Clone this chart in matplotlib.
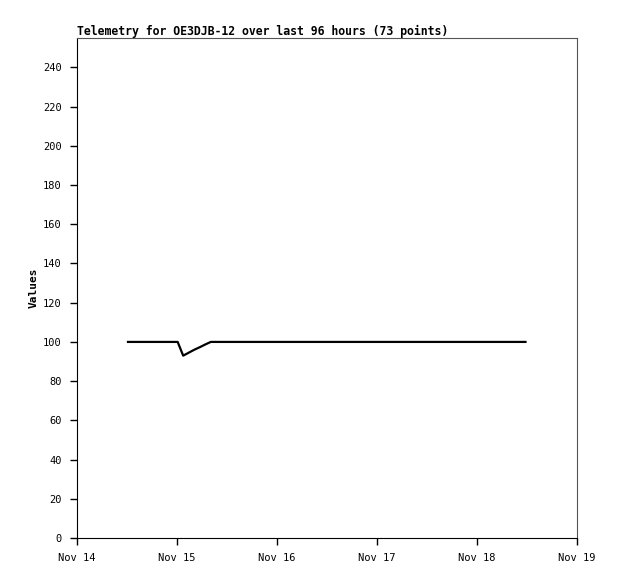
import pandas as pd
import matplotlib
matplotlib.use('Agg')
import matplotlib.pyplot as plt
import matplotlib.dates as mdates

# 73 telemetry samples, about 80 minutes apart
start = '2023-11-14 12:14'
step_minutes = 79.5
values = [100, 100, 100, 100, 100, 100, 100, 100, 100, 100,
          93, 94.5, 96, 97.3, 98.7, 100, 100, 100, 100, 100,
          100, 100, 100, 100, 100, 100, 100, 100, 100, 100,
          100, 100, 100, 100, 100, 100, 100, 100, 100, 100,
          100, 100, 100, 100, 100, 100, 100, 100, 100, 100,
          100, 100, 100, 100, 100, 100, 100, 100, 100, 100,
          100, 100, 100, 100, 100, 100, 100, 100, 100, 100,
          100, 100, 100]
times = pd.date_range(start, periods=len(values), freq=f'{int(step_minutes * 60)}s')

x_ticks = pd.date_range('2023-11-14', '2023-11-19', freq='D')
y_ticks = list(range(0, 241, 20))

plt.rcParams['font.family'] = 'DejaVu Sans Mono'

fig = plt.figure(figsize=(6.18, 5.79), dpi=100)
ax = fig.add_axes([0.1246, 0.0708, 0.8091, 0.8636])

ax.plot(times, values, color='black', linewidth=1.6)

ax.set_xlim(x_ticks[0], x_ticks[-1])
ax.set_ylim(0, 255)
ax.set_xticks(x_ticks)
ax.xaxis.set_major_formatter(mdates.DateFormatter('%b %d'))
ax.set_yticks(y_ticks)
ax.tick_params(direction='out', length=5, width=1, labelsize=7.5, pad=6)

ax.spines['top'].set_color('#555555')
ax.spines['right'].set_color('#555555')

ax.set_ylabel('Values', fontsize=8, fontweight='bold', labelpad=3)
ax.set_title('Telemetry for OE3DJB-12 over last 96 hours (73 points)',
             loc='left', fontsize=8.3, fontweight='bold', pad=2)

plt.savefig('out.png', dpi=100)
